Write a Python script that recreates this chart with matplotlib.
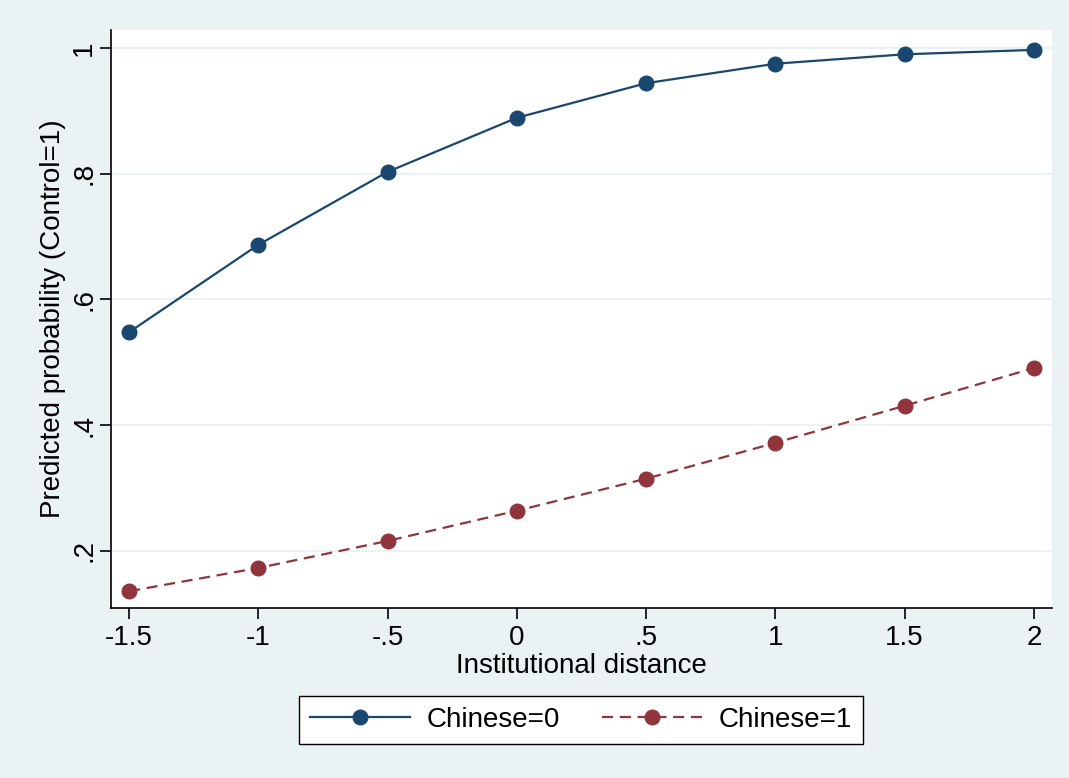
import matplotlib
matplotlib.use("Agg")
import matplotlib.pyplot as plt

# predicted probabilities
inst_dist = [-1.5, -1, -0.5, 0, 0.5, 1, 1.5, 2]
chinese0 = [0.548, 0.687, 0.803, 0.889, 0.944, 0.975, 0.990, 0.997]
chinese1 = [0.136, 0.173, 0.216, 0.264, 0.315, 0.372, 0.431, 0.491]
xticks = [-1.5, -1, -0.5, 0, 0.5, 1, 1.5, 2]
xticklabels = ["-1.5", "-1", "-.5", "0", ".5", "1", "1.5", "2"]
yticks = [0.2, 0.4, 0.6, 0.8, 1.0]
yticklabels = [".2", ".4", ".6", ".8", "1"]

plt.rcParams['font.family'] = ['Liberation Sans', 'DejaVu Sans']

NAVY = '#1a476f'
MAROON = '#90353b'
BG = '#eaf2f3'

fig = plt.figure(figsize=(10.69, 7.78), dpi=100)
fig.patch.set_facecolor(BG)
ax = fig.add_axes([0.1038, 0.2185, 0.8803, 0.7429])
ax.set_facecolor('white')

ax.plot(inst_dist, chinese0, '-', color=NAVY, lw=1.6, marker='o', ms=10.5,
        label='Chinese=0', zorder=3)
ax.plot(inst_dist, chinese1, '--', color=MAROON, lw=1.6, marker='o', ms=10.5,
        dashes=(5, 3), label='Chinese=1', zorder=3)

ax.set_xlim(-1.570, 2.070)
ax.set_ylim(0.1093, 1.0286)
ax.set_xticks(xticks)
ax.set_xticklabels(xticklabels)
ax.set_yticks(yticks)
ax.set_yticklabels(yticklabels, rotation=90, va='center')
ax.grid(axis='y', color=BG, lw=1.5)
ax.set_axisbelow(True)
for s in ['top', 'right']:
    ax.spines[s].set_visible(False)
for s in ['left', 'bottom']:
    ax.spines[s].set_color('black')
    ax.spines[s].set_linewidth(1.2)
ax.tick_params(length=8, width=1.2, labelsize=20, pad=4)
ax.tick_params(axis='y', pad=2)
ax.set_xlabel("Institutional distance", fontsize=20, labelpad=2)
ax.set_ylabel("Predicted probability (Control=1)", fontsize=20, labelpad=4)

leg = fig.legend(loc='center', bbox_to_anchor=(581 / 1069, 1 - 720 / 778),
                 ncol=2, fontsize=20, handlelength=3.6, columnspacing=1.5,
                 handletextpad=0.6, borderpad=0.4, fancybox=False,
                 edgecolor='black', framealpha=1)
leg.get_frame().set_linewidth(1.0)

fig.savefig("out.png", dpi=100, facecolor=fig.get_facecolor())
